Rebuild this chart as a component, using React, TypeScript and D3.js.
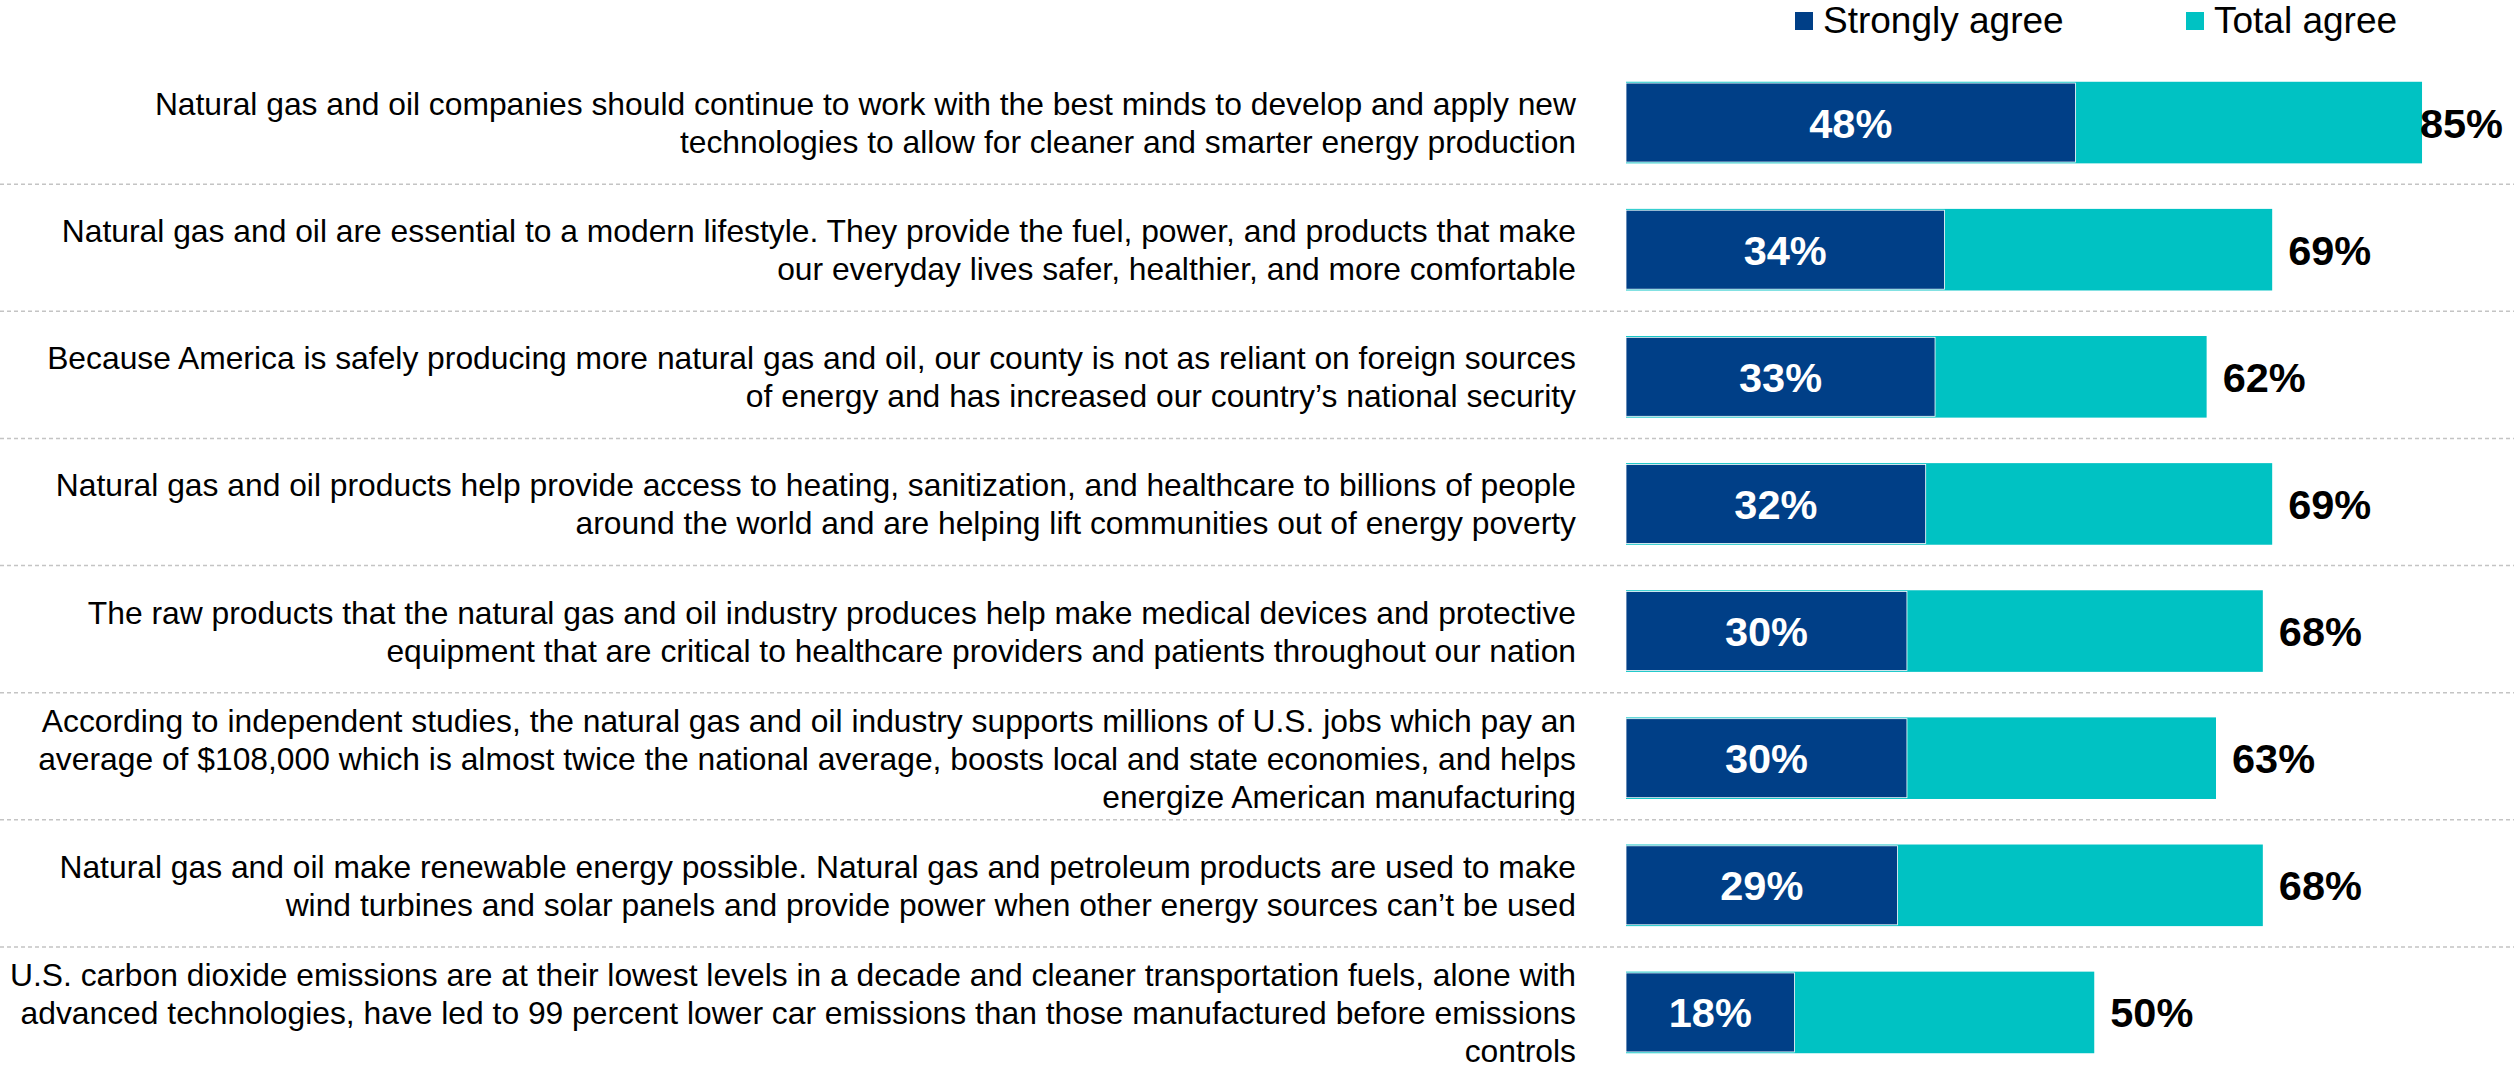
import React, { useEffect, useRef } from 'react';
import * as d3 from 'd3';

const statements: string[][] = [
  ['Natural gas and oil companies should continue to work with the best minds to develop and apply new', 'technologies to allow for cleaner and smarter energy production'],
  ['Natural gas and oil are essential to a modern lifestyle. They provide the fuel, power, and products that make', 'our everyday lives safer, healthier, and more comfortable'],
  ['Because America is safely producing more natural gas and oil, our county is not as reliant on foreign sources', 'of energy and has increased our country\u2019s national security'],
  ['Natural gas and oil products help provide access to heating, sanitization, and healthcare to billions of people', 'around the world and are helping lift communities out of energy poverty'],
  ['The raw products that the natural gas and oil industry produces help make medical devices and protective', 'equipment that are critical to healthcare providers and patients throughout our nation'],
  ['According to independent studies, the natural gas and oil industry supports millions of U.S. jobs which pay an', 'average of $108,000 which is almost twice the national average, boosts local and state economies, and helps', 'energize American manufacturing'],
  ['Natural gas and oil make renewable energy possible. Natural gas and petroleum products are used to make', 'wind turbines and solar panels and provide power when other energy sources can\u2019t be used'],
  ['U.S. carbon dioxide emissions are at their lowest levels in a decade and cleaner transportation fuels, alone with', 'advanced technologies, have led to 99 percent lower car emissions than those manufactured before emissions', 'controls'],
];

const stronglyAgree = [48, 34, 33, 32, 30, 30, 29, 18];
const totalAgree = [85, 69, 62, 69, 68, 63, 68, 50];

const seriesNames = ['Strongly agree', 'Total agree'];
const seriesColors = ['#003f87', '#00c2c3'];

const W = 2514;
const H = 1068;
const FONT = '"Liberation Sans", Arial, sans-serif';

export default function App() {
  const svgRef = useRef<SVGSVGElement | null>(null);

  useEffect(() => {
    if (!svgRef.current) return;
    const svg = d3.select(svgRef.current);
    svg.selectAll('*').remove();

    const x = d3.scaleLinear().domain([0, 100]).range([1626, 2562.5]);
    const y = d3
      .scaleBand<number>()
      .domain(d3.range(statements.length))
      .range([59, 1076])
      .paddingInner(0.3786)
      .paddingOuter(0.1893);
    const bw = y.bandwidth();
    const step = y.step();

    // dashed separators
    svg
      .append('g')
      .selectAll('line')
      .data(d3.range(statements.length - 1))
      .join('line')
      .attr('x1', 0)
      .attr('x2', W)
      .attr('y1', (i) => (y(i) ?? 0) + bw + (step - bw) / 2 - 2)
      .attr('y2', (i) => (y(i) ?? 0) + bw + (step - bw) / 2 - 2)
      .attr('stroke', '#c4c4c4')
      .attr('stroke-width', 1.5)
      .attr('stroke-dasharray', '4 3');

    // statement labels
    const lineH = 38;
    const labels = svg.append('g').attr('font-family', FONT).attr('font-size', 31.8).attr('fill', '#000');
    statements.forEach((lines, i) => {
      const cy = (y(i) ?? 0) + bw / 2;
      const t = labels.append('text').attr('text-anchor', 'end');
      lines.forEach((ln, k) => {
        t.append('tspan')
          .attr('x', 1576)
          .attr('y', cy + (k - (lines.length - 1) / 2) * lineH + 11.5)
          .text(ln);
      });
    });

    // total bars
    svg
      .append('g')
      .selectAll('rect')
      .data(totalAgree)
      .join('rect')
      .attr('x', x(0))
      .attr('y', (_, i) => (y(i) ?? 0) - 1.3)
      .attr('width', (d) => x(d) - x(0))
      .attr('height', bw + 2.6)
      .attr('fill', seriesColors[1]);

    // strongly bars
    svg
      .append('g')
      .selectAll('rect')
      .data(stronglyAgree)
      .join('rect')
      .attr('x', x(0))
      .attr('y', (_, i) => y(i) ?? 0)
      .attr('width', (d) => x(d) - x(0))
      .attr('height', bw)
      .attr('fill', seriesColors[0])
      .attr('stroke', '#ffffff')
      .attr('stroke-width', 0.8);

    const fs = 41.5;

    // value labels inside
    svg
      .append('g')
      .selectAll('text')
      .data(stronglyAgree)
      .join('text')
      .attr('x', (d) => (x(0) + x(d)) / 2)
      .attr('y', (_, i) => (y(i) ?? 0) + bw / 2)
      .attr('dy', '0.36em')
      .attr('text-anchor', 'middle')
      .attr('font-family', FONT)
      .attr('font-weight', 700)
      .attr('font-size', fs)
      .attr('fill', '#fff')
      .text((d) => `${d}%`);

    // total labels (clamped to the right edge)
    const labelW = 2 * fs;
    const rightLimit = 2503;
    svg
      .append('g')
      .selectAll('text')
      .data(totalAgree)
      .join('text')
      .attr('x', (d) => (x(d) + 16 + labelW > rightLimit ? rightLimit : x(d) + 16))
      .attr('text-anchor', (d) => (x(d) + 16 + labelW > rightLimit ? 'end' : 'start'))
      .attr('y', (_, i) => (y(i) ?? 0) + bw / 2)
      .attr('dy', '0.36em')
      .attr('font-family', FONT)
      .attr('font-weight', 700)
      .attr('font-size', fs)
      .attr('fill', '#000')
      .text((d) => `${d}%`);

    // legend
    const legendX = [1795, 2186];
    const lg = svg.append('g').attr('font-family', FONT).attr('font-size', 37);
    seriesNames.forEach((name, i) => {
      lg.append('rect')
        .attr('x', legendX[i])
        .attr('y', 12)
        .attr('width', 18)
        .attr('height', 18)
        .attr('fill', seriesColors[i]);
      lg.append('text')
        .attr('x', legendX[i] + 28)
        .attr('y', 33)
        .attr('fill', '#000')
        .text(name);
    });
  }, []);

  return (
    <svg
      ref={svgRef}
      width={W}
      height={H}
      style={{ position: 'absolute', left: 0, top: 0, background: '#fff', display: 'block' }}
    />
  );
}
